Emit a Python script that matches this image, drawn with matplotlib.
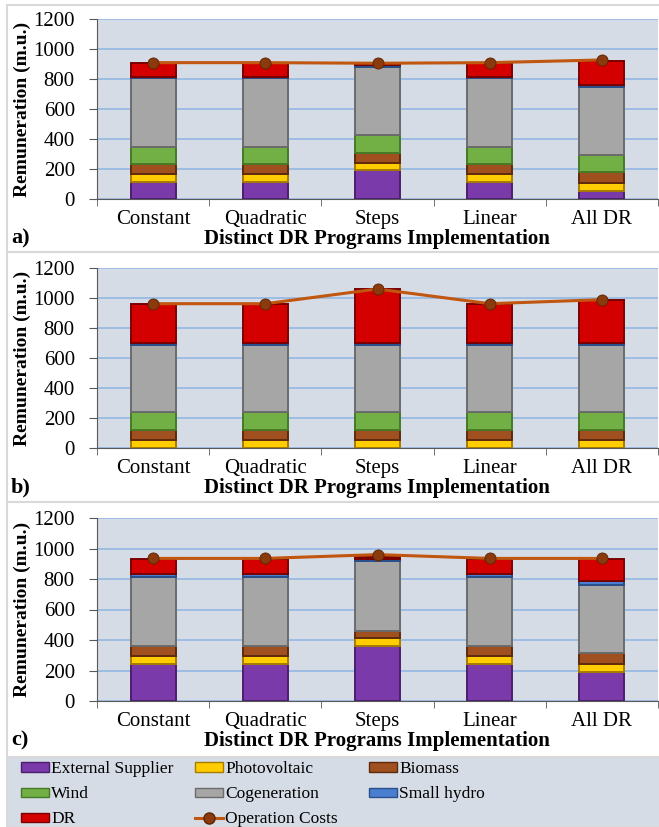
import numpy as np
from matplotlib import pyplot as plt
from matplotlib.patches import Rectangle
from matplotlib.lines import Line2D
from matplotlib.patches import Patch

plt.rcParams['font.family'] = ['Liberation Serif', 'DejaVu Serif']

categories = ['Constant', 'Quadratic', 'Steps', 'Linear', 'All DR']
series_names = ['External Supplier', 'Photovoltaic', 'Biomass', 'Wind',
                'Cogeneration', 'Small hydro', 'DR']

# panel a
ext_a = [111, 111, 191, 111, 53]
pv_a = [57, 57, 49, 57, 56]
bio_a = [67, 67, 70, 67, 71]
wind_a = [115, 115, 118, 115, 113]
cog_a = [455, 455, 455, 455, 452]
hydro_a = [11, 11, 11, 11, 16]
dr_a = [93, 93, 6, 93, 161]
op_a = [909, 909, 905, 909, 927]

# panel b
ext_b = [0, 0, 0, 0, 0]
pv_b = [56, 56, 56, 56, 56]
bio_b = [67, 67, 67, 67, 67]
wind_b = [114, 114, 114, 114, 114]
cog_b = [451, 451, 451, 451, 451]
hydro_b = [11, 11, 11, 11, 11]
dr_b = [263, 263, 361, 263, 290]
op_b = [962, 962, 1060, 962, 989]

# panel c
ext_c = [240, 240, 363, 240, 192]
pv_c = [53, 53, 48, 53, 53]
bio_c = [70, 70, 46, 70, 70]
wind_c = [0, 0, 0, 0, 0]
cog_c = [450, 450, 459, 450, 448]
hydro_c = [22, 22, 15, 22, 22]
dr_c = [96, 96, 13, 96, 146]
op_c = [935, 935, 960, 935, 935]

panels = [
    ('a)', [ext_a, pv_a, bio_a, wind_a, cog_a, hydro_a, dr_a], op_a),
    ('b)', [ext_b, pv_b, bio_b, wind_b, cog_b, hydro_b, dr_b], op_b),
    ('c)', [ext_c, pv_c, bio_c, wind_c, cog_c, hydro_c, dr_c], op_c),
]

face = ['#7b3aa9', '#ffcc00', '#a0501e', '#72b046', '#a6a6a6', '#4a7fd0', '#d40000']
edge = ['#4b1f6e', '#a67c00', '#5e2a0c', '#467a26', '#6b6b6b', '#2a4f8a', '#7a0000']
line_col = '#c0560f'
dot_col = '#8a3a0c'

W, H = 659, 827
fig = plt.figure(figsize=(W / 100, H / 100), dpi=100)


def fx(x):
    return x / W


def fy(y):
    return 1 - y / H


# panel frames and legend background
frames = [(5, 252), (252, 502), (502, 757)]
for top, bot in frames:
    fig.patches.append(Rectangle((fx(7), fy(bot)), fx(W + 5) - fx(7), fy(top) - fy(bot),
                                 transform=fig.transFigure, facecolor='white',
                                 edgecolor='#d9d9d9', linewidth=1.5, zorder=-2))
fig.patches.append(Rectangle((fx(7), 0), 1, fy(757), transform=fig.transFigure,
                             facecolor='#d6dce5', edgecolor='#d9d9d9', linewidth=1.5, zorder=-2))

axes_px = [(19, 199), (268, 448), (518, 701)]
x = np.arange(len(categories))

for (tag, stacks, op), (top, bot) in zip(panels, axes_px):
    ax = fig.add_axes([fx(97), fy(bot), fx(658) - fx(97), fy(top) - fy(bot)])
    ax.set_facecolor('#d6dce5')
    bottom = np.zeros(len(categories))
    for vals, fc, ec in zip(stacks, face, edge):
        vals = np.array(vals, dtype=float)
        if vals.sum() > 0:
            ax.bar(x, vals, 0.4, bottom=bottom, color=fc, edgecolor=ec,
                   linewidth=1.4, zorder=3)
        bottom += vals
    ax.plot(x, op, color=line_col, linewidth=2.2, zorder=4)
    ax.plot(x, op, 'o', color=dot_col, markersize=8, markeredgecolor='#5a2406',
            markeredgewidth=0.6, zorder=5)

    ax.set_xlim(-0.5, len(categories) - 0.5)
    ax.set_ylim(0, 1200)
    ax.set_yticks(range(0, 1201, 200))
    ax.grid(axis='y', color='#8eb4e3', linewidth=1.1, zorder=1)
    ax.set_axisbelow(True)
    ax.set_xticks(x)
    ax.set_xticklabels(categories, fontsize=15)
    ax.set_xticks(np.arange(-0.5, len(categories), 1.0), minor=True)
    ax.tick_params(axis='x', which='major', length=0, pad=8)
    ax.tick_params(axis='x', which='minor', length=5, color='#595959')
    ax.tick_params(axis='y', length=6, color='#595959', labelsize=15, pad=10)
    for s in ['top', 'right']:
        ax.spines[s].set_visible(False)
    for s in ['left', 'bottom']:
        ax.spines[s].set_color('#595959')
    ax.set_ylabel('Remuneration (m.u.)', fontsize=14, fontweight='bold')
    ax.yaxis.set_label_coords(-0.118, 0.5)

    fig.text(fx(377), fy(bot + 40), 'Distinct DR Programs Implementation',
             ha='center', va='center', fontsize=15, fontweight='bold')
    fig.text(fx(11), fy(bot + 39), tag, ha='left', va='center',
             fontsize=16, fontweight='bold')

handles = [Patch(facecolor=fc, edgecolor=ec, linewidth=1.0) for fc, ec in zip(face, edge)]
op_handle = Line2D([], [], color=line_col, linewidth=2.2, marker='o', markersize=8,
                   markerfacecolor=dot_col, markeredgecolor='#5a2406')
labels_all = series_names + ['Operation Costs']
handles_all = handles + [op_handle]

# one legend per column, placed where the reference columns start
columns = [([0, 3, 6], 17), ([1, 4, 7], 191), ([2, 5], 365)]
for idx, x0 in columns:
    leg = fig.legend([handles_all[i] for i in idx], [labels_all[i] for i in idx],
                     ncol=1, loc='upper left', bbox_to_anchor=(fx(x0), fy(757)),
                     frameon=False, fontsize=12.5, handlelength=1.6, handleheight=0.45,
                     handletextpad=0.12, labelspacing=0.52,
                     borderaxespad=0, borderpad=0.25)

plt.savefig('out.png', dpi=100)
plt.close()
